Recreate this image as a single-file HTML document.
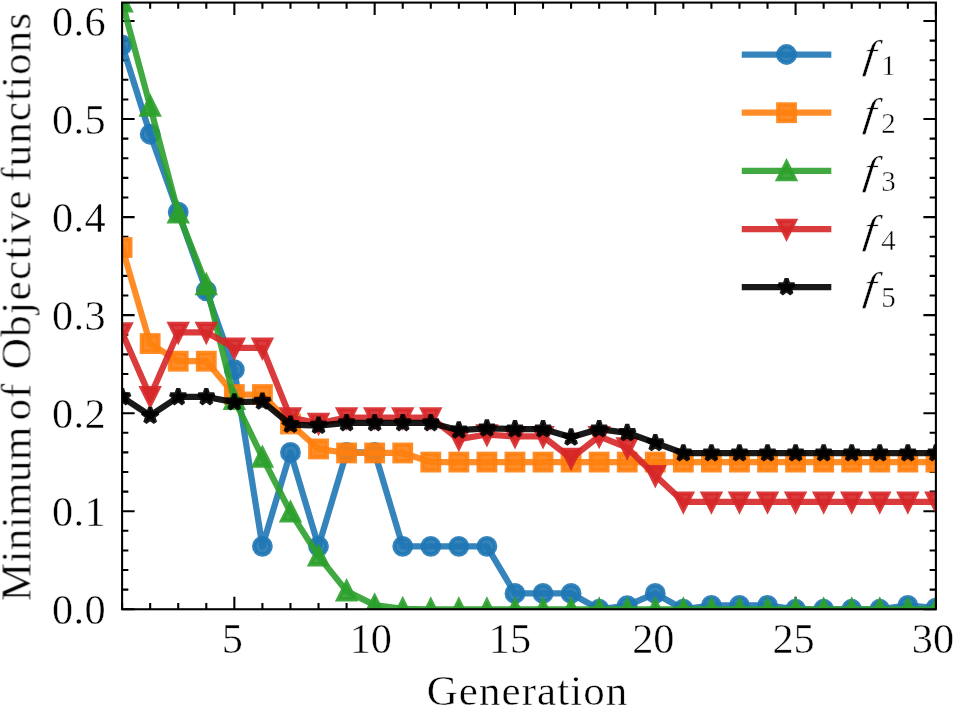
<!DOCTYPE html>
<html><head><meta charset="utf-8"><title>Minimum of Objective functions vs Generation</title>
<style>html,body{margin:0;padding:0;background:#fff}svg{display:block}</style></head>
<body>
<svg width="954" height="708" viewBox="0 0 954 708">
<rect width="954" height="708" fill="#ffffff"/>
<defs><clipPath id="ax"><rect x="122.1" y="2.6" width="813.8" height="606.65"/></clipPath></defs>
<path d="M122.10 609.25 v-6.25 M122.10 2.6 v6.25 M150.16 609.25 v-6.25 M150.16 2.6 v6.25 M178.22 609.25 v-6.25 M178.22 2.6 v6.25 M206.29 609.25 v-6.25 M206.29 2.6 v6.25 M234.35 609.25 v-12.5 M234.35 2.6 v12.5 M262.41 609.25 v-6.25 M262.41 2.6 v6.25 M290.47 609.25 v-6.25 M290.47 2.6 v6.25 M318.53 609.25 v-6.25 M318.53 2.6 v6.25 M346.60 609.25 v-6.25 M346.60 2.6 v6.25 M374.66 609.25 v-12.5 M374.66 2.6 v12.5 M402.72 609.25 v-6.25 M402.72 2.6 v6.25 M430.78 609.25 v-6.25 M430.78 2.6 v6.25 M458.84 609.25 v-6.25 M458.84 2.6 v6.25 M486.91 609.25 v-6.25 M486.91 2.6 v6.25 M514.97 609.25 v-12.5 M514.97 2.6 v12.5 M543.03 609.25 v-6.25 M543.03 2.6 v6.25 M571.09 609.25 v-6.25 M571.09 2.6 v6.25 M599.16 609.25 v-6.25 M599.16 2.6 v6.25 M627.22 609.25 v-6.25 M627.22 2.6 v6.25 M655.28 609.25 v-12.5 M655.28 2.6 v12.5 M683.34 609.25 v-6.25 M683.34 2.6 v6.25 M711.40 609.25 v-6.25 M711.40 2.6 v6.25 M739.47 609.25 v-6.25 M739.47 2.6 v6.25 M767.53 609.25 v-6.25 M767.53 2.6 v6.25 M795.59 609.25 v-12.5 M795.59 2.6 v12.5 M823.65 609.25 v-6.25 M823.65 2.6 v6.25 M851.71 609.25 v-6.25 M851.71 2.6 v6.25 M879.78 609.25 v-6.25 M879.78 2.6 v6.25 M907.84 609.25 v-6.25 M907.84 2.6 v6.25 M935.90 609.25 v-12.5 M935.90 2.6 v12.5 M122.1 609.25 h12.5 M935.9 609.25 h-12.5 M122.1 589.64 h6.25 M935.9 589.64 h-6.25 M122.1 570.03 h6.25 M935.9 570.03 h-6.25 M122.1 550.43 h6.25 M935.9 550.43 h-6.25 M122.1 530.82 h6.25 M935.9 530.82 h-6.25 M122.1 511.21 h12.5 M935.9 511.21 h-12.5 M122.1 491.60 h6.25 M935.9 491.60 h-6.25 M122.1 471.99 h6.25 M935.9 471.99 h-6.25 M122.1 452.39 h6.25 M935.9 452.39 h-6.25 M122.1 432.78 h6.25 M935.9 432.78 h-6.25 M122.1 413.17 h12.5 M935.9 413.17 h-12.5 M122.1 393.56 h6.25 M935.9 393.56 h-6.25 M122.1 373.95 h6.25 M935.9 373.95 h-6.25 M122.1 354.35 h6.25 M935.9 354.35 h-6.25 M122.1 334.74 h6.25 M935.9 334.74 h-6.25 M122.1 315.13 h12.5 M935.9 315.13 h-12.5 M122.1 295.52 h6.25 M935.9 295.52 h-6.25 M122.1 275.91 h6.25 M935.9 275.91 h-6.25 M122.1 256.31 h6.25 M935.9 256.31 h-6.25 M122.1 236.70 h6.25 M935.9 236.70 h-6.25 M122.1 217.09 h12.5 M935.9 217.09 h-12.5 M122.1 197.48 h6.25 M935.9 197.48 h-6.25 M122.1 177.87 h6.25 M935.9 177.87 h-6.25 M122.1 158.27 h6.25 M935.9 158.27 h-6.25 M122.1 138.66 h6.25 M935.9 138.66 h-6.25 M122.1 119.05 h12.5 M935.9 119.05 h-12.5 M122.1 99.44 h6.25 M935.9 99.44 h-6.25 M122.1 79.83 h6.25 M935.9 79.83 h-6.25 M122.1 60.23 h6.25 M935.9 60.23 h-6.25 M122.1 40.62 h6.25 M935.9 40.62 h-6.25 M122.1 21.01 h12.5 M935.9 21.01 h-12.5" stroke="#000" stroke-width="2.08" fill="none"/>
<g clip-path="url(#ax)">
<polyline points="122.10,45.03 150.16,134.25 178.22,212.19 206.29,290.82 234.35,369.64 262.41,546.31 290.47,452.39 318.53,546.31 346.60,452.39 374.66,452.39 402.72,546.31 430.78,546.31 458.84,546.31 486.91,546.31 514.97,593.47 543.03,593.47 571.09,593.47 599.16,609.25 627.22,605.72 655.28,593.47 683.34,609.25 711.40,605.33 739.47,605.33 767.53,605.33 795.59,609.25 823.65,609.25 851.71,609.25 879.78,609.25 907.84,605.33 935.90,608.07" fill="none" stroke="#1f77b4" stroke-opacity="0.9" stroke-width="6.25" stroke-linejoin="round" stroke-linecap="square"/>
<circle cx="122.10" cy="45.03" r="8.34" fill="#1f77b4" fill-opacity="0.9" stroke="#1f77b4" stroke-opacity="0.9" stroke-width="4.17"/>
<circle cx="150.16" cy="134.25" r="8.34" fill="#1f77b4" fill-opacity="0.9" stroke="#1f77b4" stroke-opacity="0.9" stroke-width="4.17"/>
<circle cx="178.22" cy="212.19" r="8.34" fill="#1f77b4" fill-opacity="0.9" stroke="#1f77b4" stroke-opacity="0.9" stroke-width="4.17"/>
<circle cx="206.29" cy="290.82" r="8.34" fill="#1f77b4" fill-opacity="0.9" stroke="#1f77b4" stroke-opacity="0.9" stroke-width="4.17"/>
<circle cx="234.35" cy="369.64" r="8.34" fill="#1f77b4" fill-opacity="0.9" stroke="#1f77b4" stroke-opacity="0.9" stroke-width="4.17"/>
<circle cx="262.41" cy="546.31" r="8.34" fill="#1f77b4" fill-opacity="0.9" stroke="#1f77b4" stroke-opacity="0.9" stroke-width="4.17"/>
<circle cx="290.47" cy="452.39" r="8.34" fill="#1f77b4" fill-opacity="0.9" stroke="#1f77b4" stroke-opacity="0.9" stroke-width="4.17"/>
<circle cx="318.53" cy="546.31" r="8.34" fill="#1f77b4" fill-opacity="0.9" stroke="#1f77b4" stroke-opacity="0.9" stroke-width="4.17"/>
<circle cx="346.60" cy="452.39" r="8.34" fill="#1f77b4" fill-opacity="0.9" stroke="#1f77b4" stroke-opacity="0.9" stroke-width="4.17"/>
<circle cx="374.66" cy="452.39" r="8.34" fill="#1f77b4" fill-opacity="0.9" stroke="#1f77b4" stroke-opacity="0.9" stroke-width="4.17"/>
<circle cx="402.72" cy="546.31" r="8.34" fill="#1f77b4" fill-opacity="0.9" stroke="#1f77b4" stroke-opacity="0.9" stroke-width="4.17"/>
<circle cx="430.78" cy="546.31" r="8.34" fill="#1f77b4" fill-opacity="0.9" stroke="#1f77b4" stroke-opacity="0.9" stroke-width="4.17"/>
<circle cx="458.84" cy="546.31" r="8.34" fill="#1f77b4" fill-opacity="0.9" stroke="#1f77b4" stroke-opacity="0.9" stroke-width="4.17"/>
<circle cx="486.91" cy="546.31" r="8.34" fill="#1f77b4" fill-opacity="0.9" stroke="#1f77b4" stroke-opacity="0.9" stroke-width="4.17"/>
<circle cx="514.97" cy="593.47" r="8.34" fill="#1f77b4" fill-opacity="0.9" stroke="#1f77b4" stroke-opacity="0.9" stroke-width="4.17"/>
<circle cx="543.03" cy="593.47" r="8.34" fill="#1f77b4" fill-opacity="0.9" stroke="#1f77b4" stroke-opacity="0.9" stroke-width="4.17"/>
<circle cx="571.09" cy="593.47" r="8.34" fill="#1f77b4" fill-opacity="0.9" stroke="#1f77b4" stroke-opacity="0.9" stroke-width="4.17"/>
<circle cx="599.16" cy="609.25" r="8.34" fill="#1f77b4" fill-opacity="0.9" stroke="#1f77b4" stroke-opacity="0.9" stroke-width="4.17"/>
<circle cx="627.22" cy="605.72" r="8.34" fill="#1f77b4" fill-opacity="0.9" stroke="#1f77b4" stroke-opacity="0.9" stroke-width="4.17"/>
<circle cx="655.28" cy="593.47" r="8.34" fill="#1f77b4" fill-opacity="0.9" stroke="#1f77b4" stroke-opacity="0.9" stroke-width="4.17"/>
<circle cx="683.34" cy="609.25" r="8.34" fill="#1f77b4" fill-opacity="0.9" stroke="#1f77b4" stroke-opacity="0.9" stroke-width="4.17"/>
<circle cx="711.40" cy="605.33" r="8.34" fill="#1f77b4" fill-opacity="0.9" stroke="#1f77b4" stroke-opacity="0.9" stroke-width="4.17"/>
<circle cx="739.47" cy="605.33" r="8.34" fill="#1f77b4" fill-opacity="0.9" stroke="#1f77b4" stroke-opacity="0.9" stroke-width="4.17"/>
<circle cx="767.53" cy="605.33" r="8.34" fill="#1f77b4" fill-opacity="0.9" stroke="#1f77b4" stroke-opacity="0.9" stroke-width="4.17"/>
<circle cx="795.59" cy="609.25" r="8.34" fill="#1f77b4" fill-opacity="0.9" stroke="#1f77b4" stroke-opacity="0.9" stroke-width="4.17"/>
<circle cx="823.65" cy="609.25" r="8.34" fill="#1f77b4" fill-opacity="0.9" stroke="#1f77b4" stroke-opacity="0.9" stroke-width="4.17"/>
<circle cx="851.71" cy="609.25" r="8.34" fill="#1f77b4" fill-opacity="0.9" stroke="#1f77b4" stroke-opacity="0.9" stroke-width="4.17"/>
<circle cx="879.78" cy="609.25" r="8.34" fill="#1f77b4" fill-opacity="0.9" stroke="#1f77b4" stroke-opacity="0.9" stroke-width="4.17"/>
<circle cx="907.84" cy="605.33" r="8.34" fill="#1f77b4" fill-opacity="0.9" stroke="#1f77b4" stroke-opacity="0.9" stroke-width="4.17"/>
<circle cx="935.90" cy="608.07" r="8.34" fill="#1f77b4" fill-opacity="0.9" stroke="#1f77b4" stroke-opacity="0.9" stroke-width="4.17"/>
<polyline points="122.10,247.48 150.16,343.56 178.22,361.21 206.29,361.21 234.35,394.54 262.41,394.54 290.47,423.95 318.53,448.95 346.60,452.97 374.66,452.97 402.72,452.97 430.78,462.09 458.84,462.09 486.91,462.09 514.97,462.09 543.03,462.09 571.09,462.09 599.16,462.09 627.22,462.09 655.28,462.09 683.34,462.09 711.40,462.09 739.47,462.09 767.53,462.09 795.59,462.09 823.65,462.09 851.71,462.09 879.78,462.09 907.84,462.09 935.90,462.09" fill="none" stroke="#ff7f0e" stroke-opacity="0.9" stroke-width="6.25" stroke-linejoin="round" stroke-linecap="square"/>
<rect x="113.76" y="239.15" width="16.67" height="16.67" fill="#ff7f0e" fill-opacity="0.9" stroke="#ff7f0e" stroke-opacity="0.9" stroke-width="4.17" stroke-linejoin="miter"/>
<rect x="141.83" y="335.23" width="16.67" height="16.67" fill="#ff7f0e" fill-opacity="0.9" stroke="#ff7f0e" stroke-opacity="0.9" stroke-width="4.17" stroke-linejoin="miter"/>
<rect x="169.89" y="352.87" width="16.67" height="16.67" fill="#ff7f0e" fill-opacity="0.9" stroke="#ff7f0e" stroke-opacity="0.9" stroke-width="4.17" stroke-linejoin="miter"/>
<rect x="197.95" y="352.87" width="16.67" height="16.67" fill="#ff7f0e" fill-opacity="0.9" stroke="#ff7f0e" stroke-opacity="0.9" stroke-width="4.17" stroke-linejoin="miter"/>
<rect x="226.01" y="386.21" width="16.67" height="16.67" fill="#ff7f0e" fill-opacity="0.9" stroke="#ff7f0e" stroke-opacity="0.9" stroke-width="4.17" stroke-linejoin="miter"/>
<rect x="254.08" y="386.21" width="16.67" height="16.67" fill="#ff7f0e" fill-opacity="0.9" stroke="#ff7f0e" stroke-opacity="0.9" stroke-width="4.17" stroke-linejoin="miter"/>
<rect x="282.14" y="415.62" width="16.67" height="16.67" fill="#ff7f0e" fill-opacity="0.9" stroke="#ff7f0e" stroke-opacity="0.9" stroke-width="4.17" stroke-linejoin="miter"/>
<rect x="310.20" y="440.62" width="16.67" height="16.67" fill="#ff7f0e" fill-opacity="0.9" stroke="#ff7f0e" stroke-opacity="0.9" stroke-width="4.17" stroke-linejoin="miter"/>
<rect x="338.26" y="444.64" width="16.67" height="16.67" fill="#ff7f0e" fill-opacity="0.9" stroke="#ff7f0e" stroke-opacity="0.9" stroke-width="4.17" stroke-linejoin="miter"/>
<rect x="366.32" y="444.64" width="16.67" height="16.67" fill="#ff7f0e" fill-opacity="0.9" stroke="#ff7f0e" stroke-opacity="0.9" stroke-width="4.17" stroke-linejoin="miter"/>
<rect x="394.39" y="444.64" width="16.67" height="16.67" fill="#ff7f0e" fill-opacity="0.9" stroke="#ff7f0e" stroke-opacity="0.9" stroke-width="4.17" stroke-linejoin="miter"/>
<rect x="422.45" y="453.76" width="16.67" height="16.67" fill="#ff7f0e" fill-opacity="0.9" stroke="#ff7f0e" stroke-opacity="0.9" stroke-width="4.17" stroke-linejoin="miter"/>
<rect x="450.51" y="453.76" width="16.67" height="16.67" fill="#ff7f0e" fill-opacity="0.9" stroke="#ff7f0e" stroke-opacity="0.9" stroke-width="4.17" stroke-linejoin="miter"/>
<rect x="478.57" y="453.76" width="16.67" height="16.67" fill="#ff7f0e" fill-opacity="0.9" stroke="#ff7f0e" stroke-opacity="0.9" stroke-width="4.17" stroke-linejoin="miter"/>
<rect x="506.63" y="453.76" width="16.67" height="16.67" fill="#ff7f0e" fill-opacity="0.9" stroke="#ff7f0e" stroke-opacity="0.9" stroke-width="4.17" stroke-linejoin="miter"/>
<rect x="534.70" y="453.76" width="16.67" height="16.67" fill="#ff7f0e" fill-opacity="0.9" stroke="#ff7f0e" stroke-opacity="0.9" stroke-width="4.17" stroke-linejoin="miter"/>
<rect x="562.76" y="453.76" width="16.67" height="16.67" fill="#ff7f0e" fill-opacity="0.9" stroke="#ff7f0e" stroke-opacity="0.9" stroke-width="4.17" stroke-linejoin="miter"/>
<rect x="590.82" y="453.76" width="16.67" height="16.67" fill="#ff7f0e" fill-opacity="0.9" stroke="#ff7f0e" stroke-opacity="0.9" stroke-width="4.17" stroke-linejoin="miter"/>
<rect x="618.88" y="453.76" width="16.67" height="16.67" fill="#ff7f0e" fill-opacity="0.9" stroke="#ff7f0e" stroke-opacity="0.9" stroke-width="4.17" stroke-linejoin="miter"/>
<rect x="646.94" y="453.76" width="16.67" height="16.67" fill="#ff7f0e" fill-opacity="0.9" stroke="#ff7f0e" stroke-opacity="0.9" stroke-width="4.17" stroke-linejoin="miter"/>
<rect x="675.01" y="453.76" width="16.67" height="16.67" fill="#ff7f0e" fill-opacity="0.9" stroke="#ff7f0e" stroke-opacity="0.9" stroke-width="4.17" stroke-linejoin="miter"/>
<rect x="703.07" y="453.76" width="16.67" height="16.67" fill="#ff7f0e" fill-opacity="0.9" stroke="#ff7f0e" stroke-opacity="0.9" stroke-width="4.17" stroke-linejoin="miter"/>
<rect x="731.13" y="453.76" width="16.67" height="16.67" fill="#ff7f0e" fill-opacity="0.9" stroke="#ff7f0e" stroke-opacity="0.9" stroke-width="4.17" stroke-linejoin="miter"/>
<rect x="759.19" y="453.76" width="16.67" height="16.67" fill="#ff7f0e" fill-opacity="0.9" stroke="#ff7f0e" stroke-opacity="0.9" stroke-width="4.17" stroke-linejoin="miter"/>
<rect x="787.25" y="453.76" width="16.67" height="16.67" fill="#ff7f0e" fill-opacity="0.9" stroke="#ff7f0e" stroke-opacity="0.9" stroke-width="4.17" stroke-linejoin="miter"/>
<rect x="815.32" y="453.76" width="16.67" height="16.67" fill="#ff7f0e" fill-opacity="0.9" stroke="#ff7f0e" stroke-opacity="0.9" stroke-width="4.17" stroke-linejoin="miter"/>
<rect x="843.38" y="453.76" width="16.67" height="16.67" fill="#ff7f0e" fill-opacity="0.9" stroke="#ff7f0e" stroke-opacity="0.9" stroke-width="4.17" stroke-linejoin="miter"/>
<rect x="871.44" y="453.76" width="16.67" height="16.67" fill="#ff7f0e" fill-opacity="0.9" stroke="#ff7f0e" stroke-opacity="0.9" stroke-width="4.17" stroke-linejoin="miter"/>
<rect x="899.50" y="453.76" width="16.67" height="16.67" fill="#ff7f0e" fill-opacity="0.9" stroke="#ff7f0e" stroke-opacity="0.9" stroke-width="4.17" stroke-linejoin="miter"/>
<rect x="927.56" y="453.76" width="16.67" height="16.67" fill="#ff7f0e" fill-opacity="0.9" stroke="#ff7f0e" stroke-opacity="0.9" stroke-width="4.17" stroke-linejoin="miter"/>
<polyline points="122.10,2.09 150.16,106.30 178.22,213.17 206.29,284.74 234.35,399.64 262.41,457.39 290.47,512.19 318.53,556.11 346.60,591.11 374.66,605.13 402.72,608.76 430.78,609.25 458.84,609.25 486.91,609.25 514.97,609.25 543.03,609.25 571.09,609.25 599.16,609.25 627.22,609.25 655.28,609.25 683.34,609.25 711.40,609.25 739.47,609.25 767.53,609.25 795.59,609.25 823.65,609.25 851.71,609.25 879.78,609.25 907.84,609.25 935.90,609.25" fill="none" stroke="#2ca02c" stroke-opacity="0.9" stroke-width="6.25" stroke-linejoin="round" stroke-linecap="square"/>
<polygon points="122.10,-6.25 113.76,10.42 130.44,10.42" fill="#2ca02c" fill-opacity="0.9" stroke="#2ca02c" stroke-opacity="0.9" stroke-width="4.17" stroke-linejoin="miter" stroke-miterlimit="10"/>
<polygon points="150.16,97.97 141.83,114.64 158.50,114.64" fill="#2ca02c" fill-opacity="0.9" stroke="#2ca02c" stroke-opacity="0.9" stroke-width="4.17" stroke-linejoin="miter" stroke-miterlimit="10"/>
<polygon points="178.22,204.83 169.89,221.50 186.56,221.50" fill="#2ca02c" fill-opacity="0.9" stroke="#2ca02c" stroke-opacity="0.9" stroke-width="4.17" stroke-linejoin="miter" stroke-miterlimit="10"/>
<polygon points="206.29,276.40 197.95,293.07 214.62,293.07" fill="#2ca02c" fill-opacity="0.9" stroke="#2ca02c" stroke-opacity="0.9" stroke-width="4.17" stroke-linejoin="miter" stroke-miterlimit="10"/>
<polygon points="234.35,391.31 226.01,407.98 242.68,407.98" fill="#2ca02c" fill-opacity="0.9" stroke="#2ca02c" stroke-opacity="0.9" stroke-width="4.17" stroke-linejoin="miter" stroke-miterlimit="10"/>
<polygon points="262.41,449.05 254.08,465.72 270.75,465.72" fill="#2ca02c" fill-opacity="0.9" stroke="#2ca02c" stroke-opacity="0.9" stroke-width="4.17" stroke-linejoin="miter" stroke-miterlimit="10"/>
<polygon points="290.47,503.86 282.14,520.53 298.81,520.53" fill="#2ca02c" fill-opacity="0.9" stroke="#2ca02c" stroke-opacity="0.9" stroke-width="4.17" stroke-linejoin="miter" stroke-miterlimit="10"/>
<polygon points="318.53,547.78 310.20,564.45 326.87,564.45" fill="#2ca02c" fill-opacity="0.9" stroke="#2ca02c" stroke-opacity="0.9" stroke-width="4.17" stroke-linejoin="miter" stroke-miterlimit="10"/>
<polygon points="346.60,582.78 338.26,599.45 354.93,599.45" fill="#2ca02c" fill-opacity="0.9" stroke="#2ca02c" stroke-opacity="0.9" stroke-width="4.17" stroke-linejoin="miter" stroke-miterlimit="10"/>
<polygon points="374.66,596.80 366.32,613.47 382.99,613.47" fill="#2ca02c" fill-opacity="0.9" stroke="#2ca02c" stroke-opacity="0.9" stroke-width="4.17" stroke-linejoin="miter" stroke-miterlimit="10"/>
<polygon points="402.72,600.42 394.39,617.09 411.06,617.09" fill="#2ca02c" fill-opacity="0.9" stroke="#2ca02c" stroke-opacity="0.9" stroke-width="4.17" stroke-linejoin="miter" stroke-miterlimit="10"/>
<polygon points="430.78,600.91 422.45,617.59 439.12,617.59" fill="#2ca02c" fill-opacity="0.9" stroke="#2ca02c" stroke-opacity="0.9" stroke-width="4.17" stroke-linejoin="miter" stroke-miterlimit="10"/>
<polygon points="458.84,600.91 450.51,617.59 467.18,617.59" fill="#2ca02c" fill-opacity="0.9" stroke="#2ca02c" stroke-opacity="0.9" stroke-width="4.17" stroke-linejoin="miter" stroke-miterlimit="10"/>
<polygon points="486.91,600.91 478.57,617.59 495.24,617.59" fill="#2ca02c" fill-opacity="0.9" stroke="#2ca02c" stroke-opacity="0.9" stroke-width="4.17" stroke-linejoin="miter" stroke-miterlimit="10"/>
<polygon points="514.97,600.91 506.63,617.59 523.30,617.59" fill="#2ca02c" fill-opacity="0.9" stroke="#2ca02c" stroke-opacity="0.9" stroke-width="4.17" stroke-linejoin="miter" stroke-miterlimit="10"/>
<polygon points="543.03,600.91 534.70,617.59 551.37,617.59" fill="#2ca02c" fill-opacity="0.9" stroke="#2ca02c" stroke-opacity="0.9" stroke-width="4.17" stroke-linejoin="miter" stroke-miterlimit="10"/>
<polygon points="571.09,600.91 562.76,617.59 579.43,617.59" fill="#2ca02c" fill-opacity="0.9" stroke="#2ca02c" stroke-opacity="0.9" stroke-width="4.17" stroke-linejoin="miter" stroke-miterlimit="10"/>
<polygon points="599.16,600.91 590.82,617.59 607.49,617.59" fill="#2ca02c" fill-opacity="0.9" stroke="#2ca02c" stroke-opacity="0.9" stroke-width="4.17" stroke-linejoin="miter" stroke-miterlimit="10"/>
<polygon points="627.22,600.91 618.88,617.59 635.55,617.59" fill="#2ca02c" fill-opacity="0.9" stroke="#2ca02c" stroke-opacity="0.9" stroke-width="4.17" stroke-linejoin="miter" stroke-miterlimit="10"/>
<polygon points="655.28,600.91 646.94,617.59 663.61,617.59" fill="#2ca02c" fill-opacity="0.9" stroke="#2ca02c" stroke-opacity="0.9" stroke-width="4.17" stroke-linejoin="miter" stroke-miterlimit="10"/>
<polygon points="683.34,600.91 675.01,617.59 691.68,617.59" fill="#2ca02c" fill-opacity="0.9" stroke="#2ca02c" stroke-opacity="0.9" stroke-width="4.17" stroke-linejoin="miter" stroke-miterlimit="10"/>
<polygon points="711.40,600.91 703.07,617.59 719.74,617.59" fill="#2ca02c" fill-opacity="0.9" stroke="#2ca02c" stroke-opacity="0.9" stroke-width="4.17" stroke-linejoin="miter" stroke-miterlimit="10"/>
<polygon points="739.47,600.91 731.13,617.59 747.80,617.59" fill="#2ca02c" fill-opacity="0.9" stroke="#2ca02c" stroke-opacity="0.9" stroke-width="4.17" stroke-linejoin="miter" stroke-miterlimit="10"/>
<polygon points="767.53,600.91 759.19,617.59 775.86,617.59" fill="#2ca02c" fill-opacity="0.9" stroke="#2ca02c" stroke-opacity="0.9" stroke-width="4.17" stroke-linejoin="miter" stroke-miterlimit="10"/>
<polygon points="795.59,600.91 787.25,617.59 803.92,617.59" fill="#2ca02c" fill-opacity="0.9" stroke="#2ca02c" stroke-opacity="0.9" stroke-width="4.17" stroke-linejoin="miter" stroke-miterlimit="10"/>
<polygon points="823.65,600.91 815.32,617.59 831.99,617.59" fill="#2ca02c" fill-opacity="0.9" stroke="#2ca02c" stroke-opacity="0.9" stroke-width="4.17" stroke-linejoin="miter" stroke-miterlimit="10"/>
<polygon points="851.71,600.91 843.38,617.59 860.05,617.59" fill="#2ca02c" fill-opacity="0.9" stroke="#2ca02c" stroke-opacity="0.9" stroke-width="4.17" stroke-linejoin="miter" stroke-miterlimit="10"/>
<polygon points="879.78,600.91 871.44,617.59 888.11,617.59" fill="#2ca02c" fill-opacity="0.9" stroke="#2ca02c" stroke-opacity="0.9" stroke-width="4.17" stroke-linejoin="miter" stroke-miterlimit="10"/>
<polygon points="907.84,600.91 899.50,617.59 916.17,617.59" fill="#2ca02c" fill-opacity="0.9" stroke="#2ca02c" stroke-opacity="0.9" stroke-width="4.17" stroke-linejoin="miter" stroke-miterlimit="10"/>
<polygon points="935.90,600.91 927.56,617.59 944.24,617.59" fill="#2ca02c" fill-opacity="0.9" stroke="#2ca02c" stroke-opacity="0.9" stroke-width="4.17" stroke-linejoin="miter" stroke-miterlimit="10"/>
<polyline points="122.10,332.58 150.16,396.50 178.22,332.29 206.29,332.29 234.35,347.97 262.41,347.97 290.47,417.58 318.53,423.27 346.60,417.68 374.66,417.68 402.72,417.68 430.78,417.68 458.84,439.15 486.91,434.54 514.97,436.41 543.03,436.41 571.09,458.17 599.16,436.31 627.22,447.68 655.28,475.43 683.34,501.80 711.40,501.80 739.47,501.80 767.53,501.80 795.59,501.80 823.65,501.80 851.71,501.80 879.78,501.80 907.84,501.80 935.90,501.80" fill="none" stroke="#d62728" stroke-opacity="0.9" stroke-width="6.25" stroke-linejoin="round" stroke-linecap="square"/>
<polygon points="122.10,340.92 113.76,324.25 130.44,324.25" fill="#d62728" fill-opacity="0.9" stroke="#d62728" stroke-opacity="0.9" stroke-width="4.17" stroke-linejoin="miter" stroke-miterlimit="10"/>
<polygon points="150.16,404.84 141.83,388.17 158.50,388.17" fill="#d62728" fill-opacity="0.9" stroke="#d62728" stroke-opacity="0.9" stroke-width="4.17" stroke-linejoin="miter" stroke-miterlimit="10"/>
<polygon points="178.22,340.62 169.89,323.95 186.56,323.95" fill="#d62728" fill-opacity="0.9" stroke="#d62728" stroke-opacity="0.9" stroke-width="4.17" stroke-linejoin="miter" stroke-miterlimit="10"/>
<polygon points="206.29,340.62 197.95,323.95 214.62,323.95" fill="#d62728" fill-opacity="0.9" stroke="#d62728" stroke-opacity="0.9" stroke-width="4.17" stroke-linejoin="miter" stroke-miterlimit="10"/>
<polygon points="234.35,356.31 226.01,339.64 242.68,339.64" fill="#d62728" fill-opacity="0.9" stroke="#d62728" stroke-opacity="0.9" stroke-width="4.17" stroke-linejoin="miter" stroke-miterlimit="10"/>
<polygon points="262.41,356.31 254.08,339.64 270.75,339.64" fill="#d62728" fill-opacity="0.9" stroke="#d62728" stroke-opacity="0.9" stroke-width="4.17" stroke-linejoin="miter" stroke-miterlimit="10"/>
<polygon points="290.47,425.92 282.14,409.25 298.81,409.25" fill="#d62728" fill-opacity="0.9" stroke="#d62728" stroke-opacity="0.9" stroke-width="4.17" stroke-linejoin="miter" stroke-miterlimit="10"/>
<polygon points="318.53,431.60 310.20,414.93 326.87,414.93" fill="#d62728" fill-opacity="0.9" stroke="#d62728" stroke-opacity="0.9" stroke-width="4.17" stroke-linejoin="miter" stroke-miterlimit="10"/>
<polygon points="346.60,426.01 338.26,409.34 354.93,409.34" fill="#d62728" fill-opacity="0.9" stroke="#d62728" stroke-opacity="0.9" stroke-width="4.17" stroke-linejoin="miter" stroke-miterlimit="10"/>
<polygon points="374.66,426.01 366.32,409.34 382.99,409.34" fill="#d62728" fill-opacity="0.9" stroke="#d62728" stroke-opacity="0.9" stroke-width="4.17" stroke-linejoin="miter" stroke-miterlimit="10"/>
<polygon points="402.72,426.01 394.39,409.34 411.06,409.34" fill="#d62728" fill-opacity="0.9" stroke="#d62728" stroke-opacity="0.9" stroke-width="4.17" stroke-linejoin="miter" stroke-miterlimit="10"/>
<polygon points="430.78,426.01 422.45,409.34 439.12,409.34" fill="#d62728" fill-opacity="0.9" stroke="#d62728" stroke-opacity="0.9" stroke-width="4.17" stroke-linejoin="miter" stroke-miterlimit="10"/>
<polygon points="458.84,447.49 450.51,430.82 467.18,430.82" fill="#d62728" fill-opacity="0.9" stroke="#d62728" stroke-opacity="0.9" stroke-width="4.17" stroke-linejoin="miter" stroke-miterlimit="10"/>
<polygon points="486.91,442.88 478.57,426.21 495.24,426.21" fill="#d62728" fill-opacity="0.9" stroke="#d62728" stroke-opacity="0.9" stroke-width="4.17" stroke-linejoin="miter" stroke-miterlimit="10"/>
<polygon points="514.97,444.74 506.63,428.07 523.30,428.07" fill="#d62728" fill-opacity="0.9" stroke="#d62728" stroke-opacity="0.9" stroke-width="4.17" stroke-linejoin="miter" stroke-miterlimit="10"/>
<polygon points="543.03,444.74 534.70,428.07 551.37,428.07" fill="#d62728" fill-opacity="0.9" stroke="#d62728" stroke-opacity="0.9" stroke-width="4.17" stroke-linejoin="miter" stroke-miterlimit="10"/>
<polygon points="571.09,466.51 562.76,449.84 579.43,449.84" fill="#d62728" fill-opacity="0.9" stroke="#d62728" stroke-opacity="0.9" stroke-width="4.17" stroke-linejoin="miter" stroke-miterlimit="10"/>
<polygon points="599.16,444.64 590.82,427.97 607.49,427.97" fill="#d62728" fill-opacity="0.9" stroke="#d62728" stroke-opacity="0.9" stroke-width="4.17" stroke-linejoin="miter" stroke-miterlimit="10"/>
<polygon points="627.22,456.02 618.88,439.35 635.55,439.35" fill="#d62728" fill-opacity="0.9" stroke="#d62728" stroke-opacity="0.9" stroke-width="4.17" stroke-linejoin="miter" stroke-miterlimit="10"/>
<polygon points="655.28,483.76 646.94,467.09 663.61,467.09" fill="#d62728" fill-opacity="0.9" stroke="#d62728" stroke-opacity="0.9" stroke-width="4.17" stroke-linejoin="miter" stroke-miterlimit="10"/>
<polygon points="683.34,510.13 675.01,493.46 691.68,493.46" fill="#d62728" fill-opacity="0.9" stroke="#d62728" stroke-opacity="0.9" stroke-width="4.17" stroke-linejoin="miter" stroke-miterlimit="10"/>
<polygon points="711.40,510.13 703.07,493.46 719.74,493.46" fill="#d62728" fill-opacity="0.9" stroke="#d62728" stroke-opacity="0.9" stroke-width="4.17" stroke-linejoin="miter" stroke-miterlimit="10"/>
<polygon points="739.47,510.13 731.13,493.46 747.80,493.46" fill="#d62728" fill-opacity="0.9" stroke="#d62728" stroke-opacity="0.9" stroke-width="4.17" stroke-linejoin="miter" stroke-miterlimit="10"/>
<polygon points="767.53,510.13 759.19,493.46 775.86,493.46" fill="#d62728" fill-opacity="0.9" stroke="#d62728" stroke-opacity="0.9" stroke-width="4.17" stroke-linejoin="miter" stroke-miterlimit="10"/>
<polygon points="795.59,510.13 787.25,493.46 803.92,493.46" fill="#d62728" fill-opacity="0.9" stroke="#d62728" stroke-opacity="0.9" stroke-width="4.17" stroke-linejoin="miter" stroke-miterlimit="10"/>
<polygon points="823.65,510.13 815.32,493.46 831.99,493.46" fill="#d62728" fill-opacity="0.9" stroke="#d62728" stroke-opacity="0.9" stroke-width="4.17" stroke-linejoin="miter" stroke-miterlimit="10"/>
<polygon points="851.71,510.13 843.38,493.46 860.05,493.46" fill="#d62728" fill-opacity="0.9" stroke="#d62728" stroke-opacity="0.9" stroke-width="4.17" stroke-linejoin="miter" stroke-miterlimit="10"/>
<polygon points="879.78,510.13 871.44,493.46 888.11,493.46" fill="#d62728" fill-opacity="0.9" stroke="#d62728" stroke-opacity="0.9" stroke-width="4.17" stroke-linejoin="miter" stroke-miterlimit="10"/>
<polygon points="907.84,510.13 899.50,493.46 916.17,493.46" fill="#d62728" fill-opacity="0.9" stroke="#d62728" stroke-opacity="0.9" stroke-width="4.17" stroke-linejoin="miter" stroke-miterlimit="10"/>
<polygon points="935.90,510.13 927.56,493.46 944.24,493.46" fill="#d62728" fill-opacity="0.9" stroke="#d62728" stroke-opacity="0.9" stroke-width="4.17" stroke-linejoin="miter" stroke-miterlimit="10"/>
<polyline points="122.10,396.99 150.16,415.62 178.22,396.99 206.29,396.99 234.35,402.19 262.41,401.41 290.47,424.54 318.53,425.52 346.60,422.97 374.66,422.97 402.72,422.97 430.78,422.97 458.84,430.23 486.91,428.27 514.97,429.05 543.03,429.05 571.09,437.29 599.16,429.05 627.22,432.78 655.28,442.88 683.34,453.17 711.40,453.17 739.47,453.17 767.53,453.17 795.59,453.17 823.65,453.17 851.71,453.17 879.78,453.17 907.84,453.17 935.90,453.17" fill="none" stroke="#000000" stroke-opacity="0.9" stroke-width="6.25" stroke-linejoin="round" stroke-linecap="square"/>
<polygon points="122.10,388.66 120.23,394.42 114.17,394.42 119.07,397.98 117.20,403.74 122.10,400.18 127.00,403.74 125.13,397.98 130.03,394.42 123.97,394.42" fill="#000000" fill-opacity="0.9" stroke="#000000" stroke-opacity="0.9" stroke-width="4.17" stroke-linejoin="bevel"/>
<polygon points="150.16,407.29 148.29,413.05 142.24,413.05 147.13,416.60 145.26,422.36 150.16,418.80 155.06,422.36 153.19,416.60 158.09,413.05 152.03,413.05" fill="#000000" fill-opacity="0.9" stroke="#000000" stroke-opacity="0.9" stroke-width="4.17" stroke-linejoin="bevel"/>
<polygon points="178.22,388.66 176.35,394.42 170.30,394.42 175.20,397.98 173.32,403.74 178.22,400.18 183.12,403.74 181.25,397.98 186.15,394.42 180.10,394.42" fill="#000000" fill-opacity="0.9" stroke="#000000" stroke-opacity="0.9" stroke-width="4.17" stroke-linejoin="bevel"/>
<polygon points="206.29,388.66 204.41,394.42 198.36,394.42 203.26,397.98 201.39,403.74 206.29,400.18 211.19,403.74 209.31,397.98 214.21,394.42 208.16,394.42" fill="#000000" fill-opacity="0.9" stroke="#000000" stroke-opacity="0.9" stroke-width="4.17" stroke-linejoin="bevel"/>
<polygon points="234.35,393.85 232.48,399.61 226.42,399.61 231.32,403.17 229.45,408.93 234.35,405.37 239.25,408.93 237.38,403.17 242.28,399.61 236.22,399.61" fill="#000000" fill-opacity="0.9" stroke="#000000" stroke-opacity="0.9" stroke-width="4.17" stroke-linejoin="bevel"/>
<polygon points="262.41,393.07 260.54,398.83 254.48,398.83 259.38,402.39 257.51,408.15 262.41,404.59 267.31,408.15 265.44,402.39 270.34,398.83 264.28,398.83" fill="#000000" fill-opacity="0.9" stroke="#000000" stroke-opacity="0.9" stroke-width="4.17" stroke-linejoin="bevel"/>
<polygon points="290.47,416.21 288.60,421.97 282.55,421.97 287.44,425.53 285.57,431.29 290.47,427.73 295.37,431.29 293.50,425.53 298.40,421.97 292.34,421.97" fill="#000000" fill-opacity="0.9" stroke="#000000" stroke-opacity="0.9" stroke-width="4.17" stroke-linejoin="bevel"/>
<polygon points="318.53,417.19 316.66,422.95 310.61,422.95 315.51,426.51 313.64,432.27 318.53,428.71 323.43,432.27 321.56,426.51 326.46,422.95 320.41,422.95" fill="#000000" fill-opacity="0.9" stroke="#000000" stroke-opacity="0.9" stroke-width="4.17" stroke-linejoin="bevel"/>
<polygon points="346.60,414.64 344.73,420.40 338.67,420.40 343.57,423.96 341.70,429.72 346.60,426.16 351.50,429.72 349.62,423.96 354.52,420.40 348.47,420.40" fill="#000000" fill-opacity="0.9" stroke="#000000" stroke-opacity="0.9" stroke-width="4.17" stroke-linejoin="bevel"/>
<polygon points="374.66,414.64 372.79,420.40 366.73,420.40 371.63,423.96 369.76,429.72 374.66,426.16 379.56,429.72 377.69,423.96 382.59,420.40 376.53,420.40" fill="#000000" fill-opacity="0.9" stroke="#000000" stroke-opacity="0.9" stroke-width="4.17" stroke-linejoin="bevel"/>
<polygon points="402.72,414.64 400.85,420.40 394.79,420.40 399.69,423.96 397.82,429.72 402.72,426.16 407.62,429.72 405.75,423.96 410.65,420.40 404.59,420.40" fill="#000000" fill-opacity="0.9" stroke="#000000" stroke-opacity="0.9" stroke-width="4.17" stroke-linejoin="bevel"/>
<polygon points="430.78,414.64 428.91,420.40 422.86,420.40 427.75,423.96 425.88,429.72 430.78,426.16 435.68,429.72 433.81,423.96 438.71,420.40 432.65,420.40" fill="#000000" fill-opacity="0.9" stroke="#000000" stroke-opacity="0.9" stroke-width="4.17" stroke-linejoin="bevel"/>
<polygon points="458.84,421.89 456.97,427.65 450.92,427.65 455.82,431.21 453.95,436.97 458.84,433.41 463.74,436.97 461.87,431.21 466.77,427.65 460.72,427.65" fill="#000000" fill-opacity="0.9" stroke="#000000" stroke-opacity="0.9" stroke-width="4.17" stroke-linejoin="bevel"/>
<polygon points="486.91,419.93 485.04,425.69 478.98,425.69 483.88,429.25 482.01,435.01 486.91,431.45 491.81,435.01 489.93,429.25 494.83,425.69 488.78,425.69" fill="#000000" fill-opacity="0.9" stroke="#000000" stroke-opacity="0.9" stroke-width="4.17" stroke-linejoin="bevel"/>
<polygon points="514.97,420.72 513.10,426.48 507.04,426.48 511.94,430.04 510.07,435.80 514.97,432.24 519.87,435.80 518.00,430.04 522.90,426.48 516.84,426.48" fill="#000000" fill-opacity="0.9" stroke="#000000" stroke-opacity="0.9" stroke-width="4.17" stroke-linejoin="bevel"/>
<polygon points="543.03,420.72 541.16,426.48 535.10,426.48 540.00,430.04 538.13,435.80 543.03,432.24 547.93,435.80 546.06,430.04 550.96,426.48 544.90,426.48" fill="#000000" fill-opacity="0.9" stroke="#000000" stroke-opacity="0.9" stroke-width="4.17" stroke-linejoin="bevel"/>
<polygon points="571.09,428.95 569.22,434.71 563.17,434.71 568.07,438.27 566.19,444.03 571.09,440.47 575.99,444.03 574.12,438.27 579.02,434.71 572.96,434.71" fill="#000000" fill-opacity="0.9" stroke="#000000" stroke-opacity="0.9" stroke-width="4.17" stroke-linejoin="bevel"/>
<polygon points="599.16,420.72 597.28,426.48 591.23,426.48 596.13,430.04 594.26,435.80 599.16,432.24 604.05,435.80 602.18,430.04 607.08,426.48 601.03,426.48" fill="#000000" fill-opacity="0.9" stroke="#000000" stroke-opacity="0.9" stroke-width="4.17" stroke-linejoin="bevel"/>
<polygon points="627.22,424.44 625.35,430.20 619.29,430.20 624.19,433.76 622.32,439.52 627.22,435.96 632.12,439.52 630.25,433.76 635.14,430.20 629.09,430.20" fill="#000000" fill-opacity="0.9" stroke="#000000" stroke-opacity="0.9" stroke-width="4.17" stroke-linejoin="bevel"/>
<polygon points="655.28,434.54 653.41,440.30 647.35,440.30 652.25,443.86 650.38,449.62 655.28,446.06 660.18,449.62 658.31,443.86 663.21,440.30 657.15,440.30" fill="#000000" fill-opacity="0.9" stroke="#000000" stroke-opacity="0.9" stroke-width="4.17" stroke-linejoin="bevel"/>
<polygon points="683.34,444.84 681.47,450.59 675.41,450.59 680.31,454.15 678.44,459.91 683.34,456.35 688.24,459.91 686.37,454.15 691.27,450.59 685.21,450.59" fill="#000000" fill-opacity="0.9" stroke="#000000" stroke-opacity="0.9" stroke-width="4.17" stroke-linejoin="bevel"/>
<polygon points="711.40,444.84 709.53,450.59 703.48,450.59 708.38,454.15 706.50,459.91 711.40,456.35 716.30,459.91 714.43,454.15 719.33,450.59 713.27,450.59" fill="#000000" fill-opacity="0.9" stroke="#000000" stroke-opacity="0.9" stroke-width="4.17" stroke-linejoin="bevel"/>
<polygon points="739.47,444.84 737.59,450.59 731.54,450.59 736.44,454.15 734.57,459.91 739.47,456.35 744.36,459.91 742.49,454.15 747.39,450.59 741.34,450.59" fill="#000000" fill-opacity="0.9" stroke="#000000" stroke-opacity="0.9" stroke-width="4.17" stroke-linejoin="bevel"/>
<polygon points="767.53,444.84 765.66,450.59 759.60,450.59 764.50,454.15 762.63,459.91 767.53,456.35 772.43,459.91 770.56,454.15 775.45,450.59 769.40,450.59" fill="#000000" fill-opacity="0.9" stroke="#000000" stroke-opacity="0.9" stroke-width="4.17" stroke-linejoin="bevel"/>
<polygon points="795.59,444.84 793.72,450.59 787.66,450.59 792.56,454.15 790.69,459.91 795.59,456.35 800.49,459.91 798.62,454.15 803.52,450.59 797.46,450.59" fill="#000000" fill-opacity="0.9" stroke="#000000" stroke-opacity="0.9" stroke-width="4.17" stroke-linejoin="bevel"/>
<polygon points="823.65,444.84 821.78,450.59 815.72,450.59 820.62,454.15 818.75,459.91 823.65,456.35 828.55,459.91 826.68,454.15 831.58,450.59 825.52,450.59" fill="#000000" fill-opacity="0.9" stroke="#000000" stroke-opacity="0.9" stroke-width="4.17" stroke-linejoin="bevel"/>
<polygon points="851.71,444.84 849.84,450.59 843.79,450.59 848.69,454.15 846.81,459.91 851.71,456.35 856.61,459.91 854.74,454.15 859.64,450.59 853.59,450.59" fill="#000000" fill-opacity="0.9" stroke="#000000" stroke-opacity="0.9" stroke-width="4.17" stroke-linejoin="bevel"/>
<polygon points="879.78,444.84 877.90,450.59 871.85,450.59 876.75,454.15 874.88,459.91 879.78,456.35 884.68,459.91 882.80,454.15 887.70,450.59 881.65,450.59" fill="#000000" fill-opacity="0.9" stroke="#000000" stroke-opacity="0.9" stroke-width="4.17" stroke-linejoin="bevel"/>
<polygon points="907.84,444.84 905.97,450.59 899.91,450.59 904.81,454.15 902.94,459.91 907.84,456.35 912.74,459.91 910.87,454.15 915.76,450.59 909.71,450.59" fill="#000000" fill-opacity="0.9" stroke="#000000" stroke-opacity="0.9" stroke-width="4.17" stroke-linejoin="bevel"/>
<polygon points="935.90,444.84 934.03,450.59 927.97,450.59 932.87,454.15 931.00,459.91 935.90,456.35 940.80,459.91 938.93,454.15 943.83,450.59 937.77,450.59" fill="#000000" fill-opacity="0.9" stroke="#000000" stroke-opacity="0.9" stroke-width="4.17" stroke-linejoin="bevel"/>
</g>
<rect x="122.1" y="2.6" width="813.8" height="606.65" fill="none" stroke="#000" stroke-width="2.08"/>
<line x1="744.9" y1="54.5" x2="828.2" y2="54.5" stroke="#1f77b4" stroke-opacity="0.9" stroke-width="6.25" stroke-linecap="square"/>
<circle cx="786.55" cy="54.50" r="8.34" fill="#1f77b4" fill-opacity="0.9" stroke="#1f77b4" stroke-opacity="0.9" stroke-width="4.17"/>
<line x1="744.9" y1="112.7" x2="828.2" y2="112.7" stroke="#ff7f0e" stroke-opacity="0.9" stroke-width="6.25" stroke-linecap="square"/>
<rect x="778.21" y="104.37" width="16.67" height="16.67" fill="#ff7f0e" fill-opacity="0.9" stroke="#ff7f0e" stroke-opacity="0.9" stroke-width="4.17" stroke-linejoin="miter"/>
<line x1="744.9" y1="170.9" x2="828.2" y2="170.9" stroke="#2ca02c" stroke-opacity="0.9" stroke-width="6.25" stroke-linecap="square"/>
<polygon points="786.55,162.56 778.21,179.24 794.88,179.24" fill="#2ca02c" fill-opacity="0.9" stroke="#2ca02c" stroke-opacity="0.9" stroke-width="4.17" stroke-linejoin="miter" stroke-miterlimit="10"/>
<line x1="744.9" y1="229.1" x2="828.2" y2="229.1" stroke="#d62728" stroke-opacity="0.9" stroke-width="6.25" stroke-linecap="square"/>
<polygon points="786.55,237.44 778.21,220.76 794.88,220.76" fill="#d62728" fill-opacity="0.9" stroke="#d62728" stroke-opacity="0.9" stroke-width="4.17" stroke-linejoin="miter" stroke-miterlimit="10"/>
<line x1="744.9" y1="287.0" x2="828.2" y2="287.0" stroke="#000000" stroke-opacity="0.9" stroke-width="6.25" stroke-linecap="square"/>
<polygon points="786.55,278.67 784.68,284.42 778.62,284.42 783.52,287.98 781.65,293.74 786.55,290.18 791.45,293.74 789.58,287.98 794.48,284.42 788.42,284.42" fill="#000000" fill-opacity="0.9" stroke="#000000" stroke-opacity="0.9" stroke-width="4.17" stroke-linejoin="bevel"/>
<g style="font-family:'Liberation Serif',serif;fill:#000;stroke:#fff;stroke-width:0.45px" font-size="42.3" opacity="0.999">
<text x="232.3" y="652.8" text-anchor="middle">5</text>
<text x="370.8" y="652.8" text-anchor="middle">10</text>
<text x="510.0" y="652.8" text-anchor="middle">15</text>
<text x="653.3" y="652.8" text-anchor="middle">20</text>
<text x="793.6" y="652.8" text-anchor="middle">25</text>
<text x="932.9" y="652.8" text-anchor="middle">30</text>
<text x="105.9" y="623.9" text-anchor="end" letter-spacing="0.3">0.0</text>
<text x="105.9" y="525.8" text-anchor="end" letter-spacing="0.3">0.1</text>
<text x="105.9" y="427.8" text-anchor="end" letter-spacing="0.3">0.2</text>
<text x="105.9" y="329.7" text-anchor="end" letter-spacing="0.3">0.3</text>
<text x="105.9" y="231.7" text-anchor="end" letter-spacing="0.3">0.4</text>
<text x="105.9" y="133.7" text-anchor="end" letter-spacing="0.3">0.5</text>
<text x="105.9" y="35.6" text-anchor="end" letter-spacing="0.3">0.6</text>
<text x="527.5" y="704.8" text-anchor="middle" font-size="43" letter-spacing="1.05">Generation</text>
<text transform="translate(30.5 601.2) rotate(-90)" font-size="43"><tspan x="0.0" letter-spacing="0.4">Minimum</tspan> <tspan x="180.8" letter-spacing="0.75">of</tspan> <tspan x="231.9" letter-spacing="1.43">Objective</tspan> <tspan x="419.4" letter-spacing="1.09">functions</tspan></text>
<text transform="translate(862.6 67.9) skewX(-7) scale(1.1 1)" font-style="italic" font-size="40">f</text>
<text x="881.3" y="74.9" font-size="29">1</text>
<text transform="translate(862.6 126.1) skewX(-7) scale(1.1 1)" font-style="italic" font-size="40">f</text>
<text x="881.3" y="133.1" font-size="29">2</text>
<text transform="translate(862.6 184.3) skewX(-7) scale(1.1 1)" font-style="italic" font-size="40">f</text>
<text x="881.3" y="191.3" font-size="29">3</text>
<text transform="translate(862.6 242.5) skewX(-7) scale(1.1 1)" font-style="italic" font-size="40">f</text>
<text x="881.3" y="249.5" font-size="29">4</text>
<text transform="translate(862.6 300.4) skewX(-7) scale(1.1 1)" font-style="italic" font-size="40">f</text>
<text x="881.3" y="307.4" font-size="29">5</text>
</g>
</svg>
</body></html>
